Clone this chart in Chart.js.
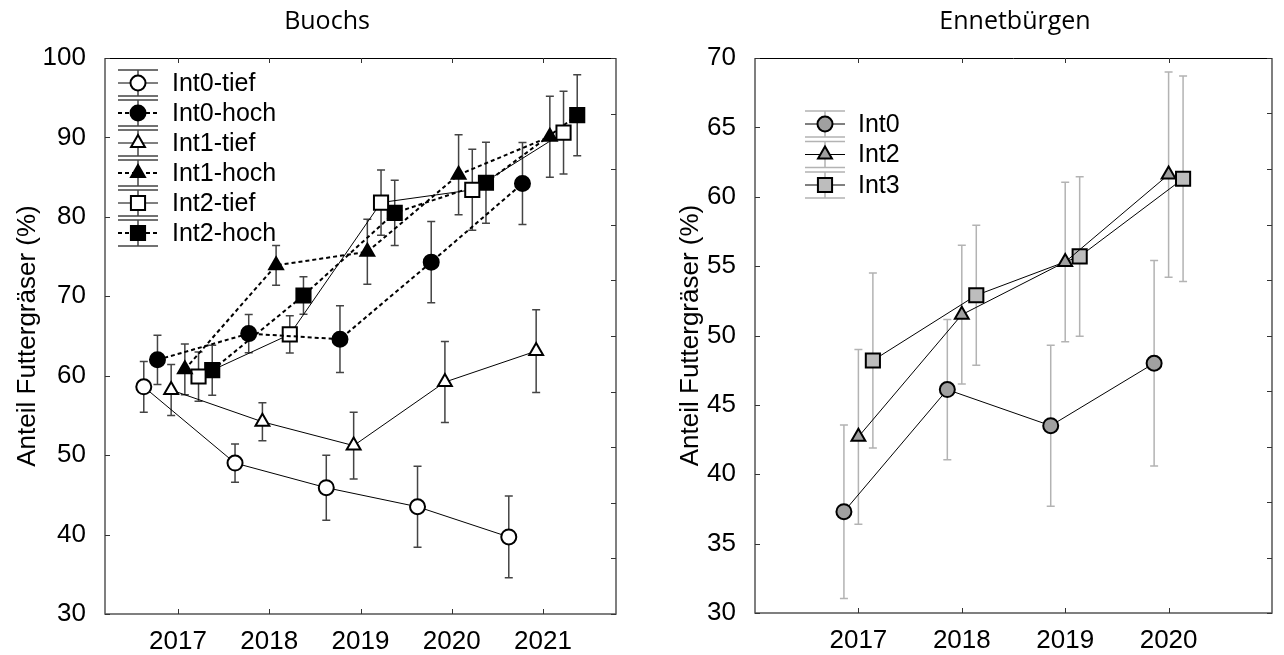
<!DOCTYPE html>
<html>
<head>
<meta charset="utf-8">
<script src="https://cdn.jsdelivr.net/npm/chart.js@4.4.0/dist/chart.umd.min.js"></script>
<style>
  body { margin: 0; background: #fff; width: 1284px; height: 655px; overflow: hidden; position: relative; }
  .panel { position: absolute; top: 0; width: 642px; height: 655px; }
</style>
</head>
<body>
<div class="panel" style="left:0"><canvas id="buochs" width="642" height="655"></canvas></div>
<div class="panel" style="left:642px"><canvas id="ennet" width="642" height="655"></canvas></div>
<script>
// --- data: Buochs ---
const yearsB = [2017, 2018, 2019, 2020, 2021];
const int0Tief = [58.6, 49.0, 45.9, 43.5, 39.7];
const int0TiefErr = [3.2, 2.4, 4.1, 5.1, 5.15];
const int0Hoch = [62.0, 65.3, 64.6, 74.3, 84.2];
const int0HochErr = [3.1, 2.4, 4.2, 5.1, 5.15];
const int1Tief = [58.2, 54.2, 51.2, 59.2, 63.1];
const int1TiefErr = [3.2, 2.4, 4.2, 5.1, 5.2];
const int1Hoch = [60.8, 73.9, 75.6, 85.3, 90.1];
const int1HochErr = [3.2, 2.5, 4.1, 5.05, 5.1];
const int2Tief = [59.9, 65.2, 81.8, 83.4, 90.6];
const int2TiefErr = [3.1, 2.35, 4.1, 5.1, 5.2];
const int2Hoch = [60.7, 70.1, 80.5, 84.3, 92.8];
const int2HochErr = [3.15, 2.35, 4.1, 5.1, 5.1];

// --- data: Ennetbürgen ---
const yearsE = [2017, 2018, 2019, 2020];
const int0E = [37.3, 46.1, 43.5, 48.0];
const int0EErr = [6.25, 5.05, 5.8, 7.4];
const int2E = [42.7, 51.5, 55.3, 61.6];
const int2EErr = [6.3, 5.0, 5.75, 7.4];
const int3E = [48.2, 52.9, 55.7, 61.3];
const int3EErr = [6.3, 5.05, 5.75, 7.4];

const yLabel = 'Anteil Futtergräser (%)';

Chart.defaults.font.family = '"Liberation Sans", Arial, sans-serif';
Chart.defaults.color = '#000';

function pts(years, vals, dodge) {
  return years.map((yr, i) => ({ x: yr + dodge, y: vals[i] }));
}

function series(label, years, vals, err, dodge, style, fill, dashed, radius) {
  return {
    label: label,
    data: pts(years, vals, dodge),
    err: err,
    showLine: true,
    borderColor: '#000',
    borderWidth: dashed ? 2 : 1,
    borderDash: dashed ? [4, 3] : [],
    pointStyle: style,
    pointRadius: radius,
    pointBackgroundColor: fill,
    pointBorderColor: '#000',
    pointBorderWidth: 2,
    fill: false
  };
}

// error bars drawn under the lines and markers
function errorBars(color) {
  return {
    id: 'errorBars',
    beforeDatasetsDraw(chart) {
      const ctx = chart.ctx, xs = chart.scales.x, ys = chart.scales.y;
      ctx.save();
      ctx.strokeStyle = color;
      ctx.lineWidth = 1.5;
      chart.data.datasets.forEach(ds => {
        ds.data.forEach((p, i) => {
          const px = xs.getPixelForValue(p.x);
          const top = ys.getPixelForValue(p.y + ds.err[i]);
          const bot = ys.getPixelForValue(p.y - ds.err[i]);
          ctx.beginPath();
          ctx.moveTo(px, top); ctx.lineTo(px, bot);
          ctx.moveTo(px - 4, top); ctx.lineTo(px + 4, top);
          ctx.moveTo(px - 4, bot); ctx.lineTo(px + 4, bot);
          ctx.stroke();
        });
      });
      ctx.restore();
    }
  };
}

// box round the plot with inward ticks, title, legend
function decor(opts) {
  return {
    id: 'decor',
    afterDraw(chart) {
      const ctx = chart.ctx, a = chart.chartArea;
      const xs = chart.scales.x, ys = chart.scales.y;
      ctx.save();
      // axes
      ctx.lineWidth = 1.5;
      ctx.strokeStyle = '#555';
      ctx.beginPath();
      ctx.moveTo(a.left, a.top); ctx.lineTo(a.left, a.bottom); ctx.lineTo(a.right, a.bottom); ctx.lineTo(a.right, a.top);
      ctx.stroke();
      ctx.strokeStyle = '#000';
      ctx.lineWidth = 1;
      ctx.beginPath();
      ctx.moveTo(a.left, a.top + 0.5); ctx.lineTo(a.right, a.top + 0.5);
      ctx.stroke();
      // inward ticks
      ctx.strokeStyle = '#333';
      ctx.beginPath();
      xs.ticks.forEach(t => {
        const px = Math.round(xs.getPixelForValue(t.value)) + 0.5;
        ctx.moveTo(px, a.bottom); ctx.lineTo(px, a.bottom - 5);
        ctx.moveTo(px, a.top); ctx.lineTo(px, a.top + 5);
      });
      ys.ticks.forEach(t => {
        const py = Math.round(ys.getPixelForValue(t.value)) + 0.5;
        ctx.moveTo(a.left, py); ctx.lineTo(a.left + 5, py);
      });
      for (let v = ys.min; v <= ys.max + 1e-6; v += opts.rightStep) {
        const py = Math.round(ys.getPixelForValue(v)) + 0.5;
        ctx.moveTo(a.right, py); ctx.lineTo(a.right - 5, py);
      }
      ctx.stroke();
      // title
      ctx.fillStyle = '#000';
      ctx.font = '25px "Open Sans", sans-serif';
      ctx.textAlign = 'center';
      ctx.textBaseline = 'middle';
      ctx.fillText(opts.title, opts.titleX, 22);
      // legend
      const lg = opts.legend;
      chart.data.datasets.forEach((ds, i) => {
        const cy = lg.y + i * lg.step;
        const gx = lg.x;
        ctx.strokeStyle = opts.errColor;
        ctx.lineWidth = 1.5;
        ctx.setLineDash([]);
        ctx.beginPath();
        ctx.moveTo(gx - 20, cy - 13); ctx.lineTo(gx + 20, cy - 13);
        ctx.moveTo(gx - 20, cy + 13); ctx.lineTo(gx + 20, cy + 13);
        ctx.moveTo(gx, cy - 13); ctx.lineTo(gx, cy + 13);
        ctx.stroke();
        ctx.strokeStyle = '#000';
        ctx.lineWidth = ds.borderWidth;
        ctx.setLineDash(ds.borderDash);
        ctx.beginPath();
        ctx.moveTo(gx - 20, cy); ctx.lineTo(gx + 20, cy);
        ctx.stroke();
        ctx.setLineDash([]);
        ctx.fillStyle = ds.pointBackgroundColor;
        ctx.strokeStyle = '#000';
        ctx.lineWidth = 2;
        Chart.helpers.drawPoint(ctx, { pointStyle: ds.pointStyle, radius: ds.pointRadius, borderWidth: 2, rotation: 0 }, gx, cy);
        ctx.fillStyle = '#000';
        ctx.font = '25px "Liberation Sans", Arial, sans-serif';
        ctx.textAlign = 'left';
        ctx.fillText(ds.label, lg.textX, cy + 1);
      });
      ctx.restore();
    }
  };
}

function makeChart(id, datasets, cfg) {
  return new Chart(document.getElementById(id), {
    type: 'line',
    data: { datasets: datasets },
    options: {
      responsive: false,
      animation: false,
      devicePixelRatio: 1,
      layout: { padding: { left: 0, right: cfg.padRight, top: 58, bottom: 0 } },
      plugins: { legend: { display: false }, tooltip: { enabled: false }, title: { display: false } },
      scales: {
        x: {
          type: 'linear',
          min: cfg.xMin,
          max: cfg.xMax,
          afterBuildTicks: s => { s.ticks = cfg.years.map(v => ({ value: v })); },
          afterFit: s => { s.height = cfg.xHeight; },
          ticks: { font: { size: 26 }, padding: 4, callback: v => String(v) },
          grid: { display: false },
          border: { display: false }
        },
        y: {
          min: cfg.yMin,
          max: cfg.yMax,
          afterFit: s => { s.width = cfg.yWidth; },
          ticks: { stepSize: cfg.yStep, font: { size: 26 }, padding: 11 },
          grid: { display: false },
          border: { display: false },
          title: { display: true, text: yLabel, font: { size: 26 }, padding: { top: cfg.yTitlePad, bottom: 0 } }
        }
      }
    },
    plugins: [errorBars(cfg.errColor), decor(cfg)]
  });
}

makeChart('buochs', [
  series('Int0-tief', yearsB, int0Tief, int0TiefErr, -0.375, 'circle', '#fff', false, 7.5),
  series('Int0-hoch', yearsB, int0Hoch, int0HochErr, -0.225, 'circle', '#000', true, 7.5),
  series('Int1-tief', yearsB, int1Tief, int1TiefErr, -0.075, 'triangle', '#fff', false, 8),
  series('Int1-hoch', yearsB, int1Hoch, int1HochErr, 0.075, 'triangle', '#000', true, 8),
  series('Int2-tief', yearsB, int2Tief, int2TiefErr, 0.225, 'rect', '#fff', false, 10),
  series('Int2-hoch', yearsB, int2Hoch, int2HochErr, 0.375, 'rect', '#000', true, 10)
], {
  years: yearsB, xMin: 2016.2, xMax: 2021.8, yMin: 30, yMax: 100, yStep: 10,
  padRight: 26, xHeight: 41, yWidth: 105, yTitlePad: 12, rightStep: 7,
  errColor: '#444', title: 'Buochs', titleX: 327,
  legend: { x: 138, y: 83, step: 30, textX: 172 }
});

makeChart('ennet', [
  series('Int0', yearsE, int0E, int0EErr, -0.14, 'circle', '#a0a0a0', false, 7.5),
  series('Int2', yearsE, int2E, int2EErr, 0, 'triangle', '#a0a0a0', false, 8),
  series('Int3', yearsE, int3E, int3EErr, 0.14, 'rect', '#bdbdbd', false, 10)
], {
  years: yearsE, xMin: 2016, xMax: 2021, yMin: 30, yMax: 70, yStep: 5,
  padRight: 7, xHeight: 42, yWidth: 113, yTitlePad: 33, rightStep: 4,
  errColor: '#b3b3b3', title: 'Ennetbürgen', titleX: 373,
  legend: { x: 183, y: 124, step: 30.5, textX: 216 }
});
</script>
</body>
</html>
